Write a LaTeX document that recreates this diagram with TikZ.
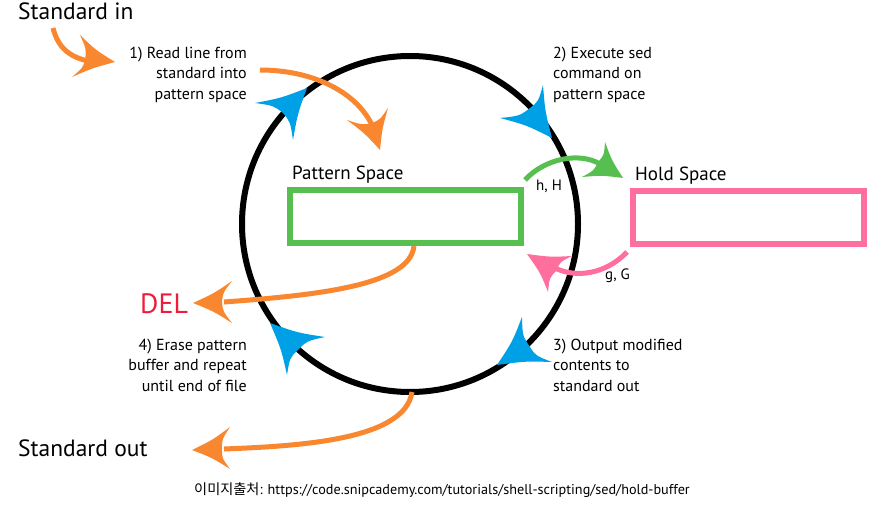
\documentclass[tikz,border=0pt]{standalone}
\usepackage{fontspec}
\setmainfont{PT Sans}
\newfontfamily\krfont{Noto Sans CJK KR}
\usetikzlibrary{calc}
\definecolor{sedorange}{HTML}{F9872F}
\definecolor{sedblue}{HTML}{00A0E6}
\definecolor{sedgreen}{HTML}{57BF4F}
\definecolor{sedpink}{HTML}{FF6F9E}
\definecolor{sedred}{HTML}{EE1B3A}
\newcommand\swoosh[5]{% colour, tip, barb1, notch, barb2
  \fill[#1] (#2) .. controls ($(#2)!.5!(#3)!.14!(#4)$) .. (#3)
    .. controls ($(#3)!.5!(#4)!.12!(#2)$) .. (#4)
    .. controls ($(#4)!.5!(#5)!.12!(#2)$) .. (#5)
    .. controls ($(#5)!.5!(#2)!.14!(#4)$) .. (#2) -- cycle;}
\tikzset{
  stepnote/.style={font=\fontsize{16}{20.5}\selectfont, inner sep=0pt},
  bigtext/.style={font=\fontsize{23.5}{27}\selectfont, inner sep=0pt},
  boxlabel/.style={font=\fontsize{19}{22}\selectfont, inner sep=0pt},
  cmdlabel/.style={font=\fontsize{15}{18}\selectfont, inner sep=0pt},
  space/.style={draw, line width=6pt, inner sep=0pt, minimum width=231pt, minimum height=53pt},
  flow/.style={line width=5pt, sedorange},
}
\begin{document}
\begin{tikzpicture}[x=1pt, y=-1pt]
\useasboundingbox (0,0) rectangle (891,513);
% cycle
\node[circle, draw, line width=6pt, minimum size=336pt, inner sep=0pt] (loop) at (410,224) {};
% buffers
\node[space, sedgreen] (ps) at (405.5,216.5) {};
\node[space, sedpink] (hs) at (748.5,217.5) {};
\node[boxlabel, anchor=base west] (pslab) at (292,180) {Pattern Space};
\node[boxlabel, anchor=base west] (hslab) at (635,181) {Hold Space};
% texts
\node[bigtext, anchor=base west] (stdin) at (18,20) {Standard in};
\node[bigtext, anchor=base west] (stdout) at (18,456) {Standard out};
\node[font=\fontsize{28}{30}\selectfont, inner sep=0pt, anchor=base west, text=sedred] (del) at (140,313) {DEL};
\node[stepnote, anchor=base east, align=right] (s1) at (247,99.5) {1) Read line from\\standard into\\pattern space};
\node[stepnote, anchor=base west, align=left] (s2) at (553,99.5) {2) Execute sed\\command on\\pattern space};
\node[stepnote, anchor=base west, align=left] (s3) at (553,391) {3) Output modified\\contents to\\standard out};
\node[stepnote, anchor=base east, align=right] (s4) at (247,391) {4) Erase pattern\\buffer and repeat\\until end of file};
\node[cmdlabel, anchor=base west] (hH) at (536,191) {h, H};
\node[cmdlabel, anchor=base west] (gG) at (605,279) {g, G};
\node[font=\fontsize{14.2}{16}\selectfont, inner sep=0pt, anchor=base] (src) at (442,494) {{\krfont 이미지출처}: https://code.snipcademy.com/tutorials/shell-scripting/sed/hold-buffer};
% blue direction heads on the cycle
\swoosh{sedblue}{307,88}{255,103}{283,113}{293,140}
\swoosh{sedblue}{552,138}{543,85}{530,108}{500,118}
\swoosh{sedblue}{497,365}{552,362}{530,347}{522,317}
\swoosh{sedblue}{270,323}{287,375}{298,350}{325,337}
% orange flows
\coordinate (inA) at (53,28);
\coordinate (inB) at (88,61);
\draw[flow] (inA) .. controls (58,48) and (70,57) .. (inB);
\swoosh{sedorange}{115,62}{80,35}{85,60}{72,77}
\coordinate (rdA) at (260,70);
\coordinate (rdB) at (372,125);
\draw[flow] (rdA) .. controls (310,70) and (355,90) .. (rdB);
\swoosh{sedorange}{380,150}{388,108}{372,123}{347,120}
\coordinate (dlA) at (ps.south -| 414,0);
\coordinate (dlB) at (224,302);
\draw[flow] (dlA) .. controls (410,285) and (320,295) .. (dlB);
\swoosh{sedorange}{193,303}{232,281}{222,302}{232,323}
\coordinate (soA) at (412,392);
\coordinate (soB) at (224,449);
\draw[flow] (soA) .. controls (405,440) and (300,446) .. (soB);
\swoosh{sedorange}{192,450}{230,427}{222,449}{230,469}
% h,H and g,G
\coordinate (hA) at (525,180);
\coordinate (hB) at (600,164);
\draw[line width=5pt, sedgreen] (hA) .. controls (545,158) and (580,152) .. (hB);
\swoosh{sedgreen}{623,178}{605,142}{598,162}{582,177}
\coordinate (gA) at (627,252);
\coordinate (gB) at (555,268);
\draw[line width=5pt, sedpink] (gA) .. controls (605,275) and (575,278) .. (gB);
\swoosh{sedpink}{527,254}{548,292}{557,270}{572,256}
\end{tikzpicture}
\end{document}
